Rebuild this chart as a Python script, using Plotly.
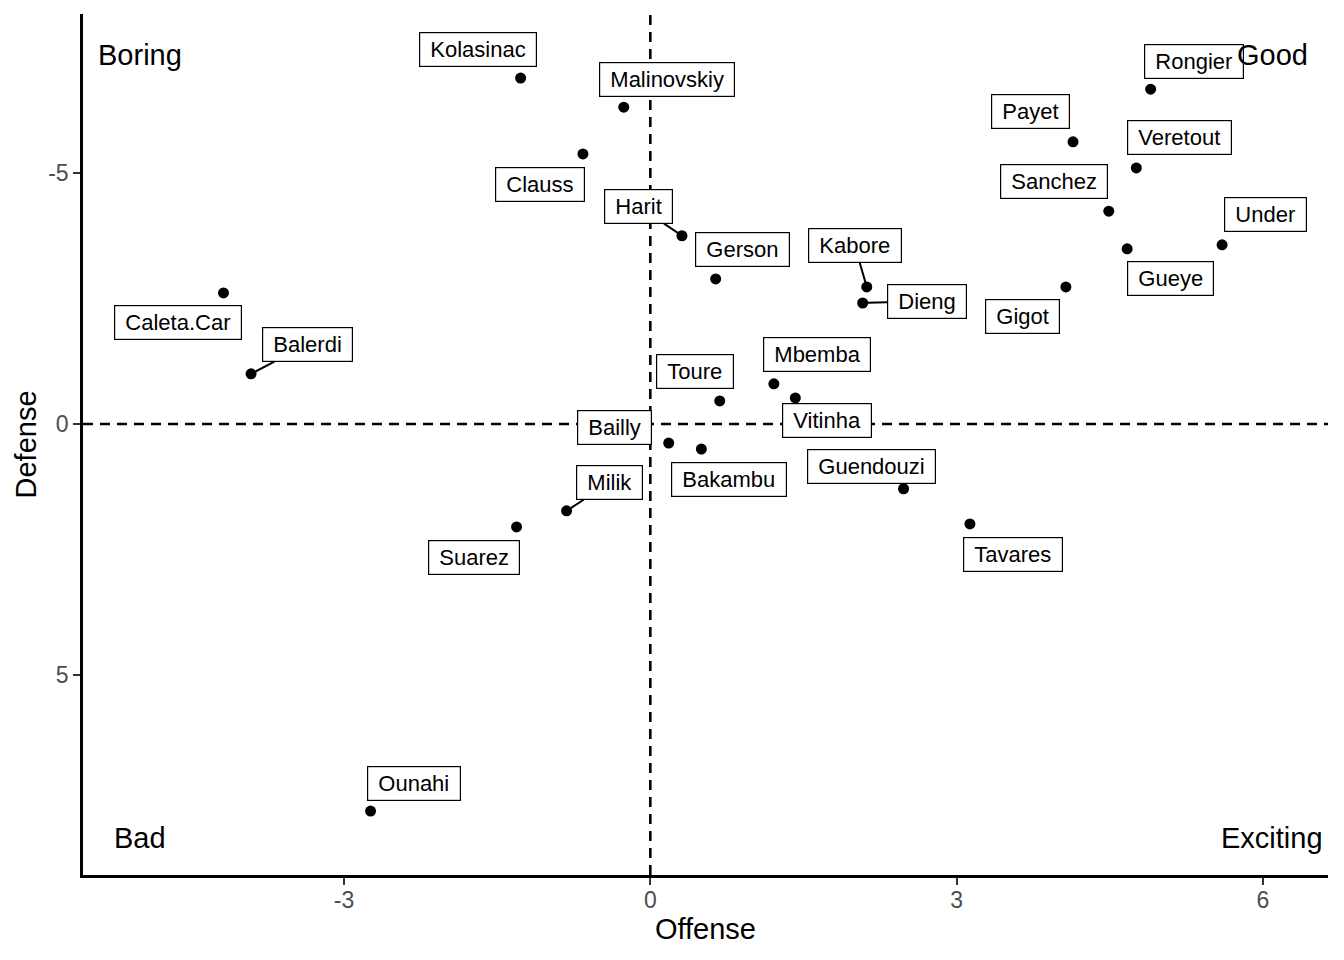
import plotly.graph_objects as go

# ---- data ----
players = ["Kolasinac", "Malinovskiy", "Clauss", "Harit", "Gerson", "Caleta.Car",
           "Balerdi", "Kabore", "Dieng", "Rongier", "Payet", "Veretout", "Sanchez",
           "Under", "Gueye", "Gigot", "Mbemba", "Vitinha", "Toure", "Bailly",
           "Bakambu", "Guendouzi", "Tavares", "Milik", "Suarez", "Ounahi"]
offense = [-1.27, -0.26, -0.66, 0.31, 0.64, -4.18,
           -3.91, 2.12, 2.08, 4.90, 4.14, 4.76, 4.49,
           5.60, 4.67, 4.07, 1.21, 1.42, 0.68, 0.18,
           0.50, 2.48, 3.13, -0.82, -1.31, -2.74]
defense = [-6.89, -6.31, -5.38, -3.75, -2.89, -2.61,
           -1.00, -2.73, -2.41, -6.67, -5.62, -5.10, -4.24,
           -3.57, -3.49, -2.73, -0.80, -0.52, -0.46, 0.38,
           0.50, 1.29, 1.99, 1.73, 2.05, 7.71]
x_ticks = [-3, 0, 3, 6]
y_ticks = [-5, 0, 5]
quadrant_text = ["Boring", "Good", "Bad", "Exciting"]
quadrant_x = [-5.0, 6.09, -5.0, 6.09]
quadrant_y = [-7.35, -7.35, 8.25, 8.25]

# ---- label layout (pixel offsets of label box from its point, repel-like) ----
label_dx = [-43, 43, -43, -43, 27, -46, 56, -12, 64, 43, -43, 43, -55,
            43, 43, -43, 43, 32, -25, -54, 28, -32, 43, 43, -43, 43]
label_dy = [-29, -28, 31, -29, -29, 30, -29, -41, -2, -28, -30, -30, -30,
            -30, 30, 30, -29, 23, -29, -16, 30, -22, 31, -28, 31, -28]
with_segment = {"Harit", "Balerdi", "Kabore", "Dieng", "Milik"}

FONT = "Liberation Sans, Arial, Helvetica, sans-serif"
NB = "\u00a0"

fig = go.Figure()
fig.add_trace(go.Scatter(
    x=offense, y=defense, mode="markers",
    marker=dict(color="black", size=11),
    hoverinfo="text", text=players, showlegend=False,
))

annotations = []
for name, xv, yv, dx, dy in zip(players, offense, defense, label_dx, label_dy):
    seg = name in with_segment
    annotations.append(dict(
        x=xv, y=yv, xref="x", yref="y",
        text=NB + name + NB,
        showarrow=True, arrowhead=0, arrowwidth=2, standoff=5,
        arrowcolor="black" if seg else "rgba(0,0,0,0)",
        ax=dx, ay=dy,
        font=dict(family=FONT, size=22, color="black"),
        bgcolor="white", bordercolor="black", borderwidth=1.2, borderpad=4,
    ))
for t, xv, yv in zip(quadrant_text, quadrant_x, quadrant_y):
    annotations.append(dict(
        x=xv, y=yv, xref="x", yref="y", text=t, showarrow=False,
        xanchor="center", yanchor="middle",
        font=dict(family=FONT, size=29, color="black"),
    ))

shapes = [
    dict(type="line", xref="x", yref="paper", x0=0, x1=0, y0=0, y1=1,
         line=dict(color="black", width=2.6, dash="10px,7px"), layer="below"),
    dict(type="line", xref="paper", yref="y", x0=0, x1=1, y0=0, y1=0,
         line=dict(color="black", width=2.6, dash="10px,7px"), layer="below"),
]

fig.update_layout(
    width=1328, height=944,
    margin=dict(l=75, r=8, t=6, b=77),
    paper_bgcolor="white", plot_bgcolor="white",
    font=dict(family=FONT),
    annotations=annotations, shapes=shapes,
    xaxis=dict(
        range=[-5.556, 6.637], tickvals=x_ticks, ticktext=[str(v) for v in x_ticks],
        showgrid=False, zeroline=False, showline=True, linecolor="black", linewidth=2.5,
        ticks="outside", ticklen=7, tickwidth=2, tickcolor="#333333",
        ticklabelstandoff=-4,
        tickfont=dict(family=FONT, size=23, color="#4D4D4D"),
        title=dict(text="Offense", font=dict(family=FONT, size=29, color="black"), standoff=6),
    ),
    yaxis=dict(
        range=[8.984, -8.167], tickvals=y_ticks, ticktext=[str(v) for v in y_ticks],
        showgrid=False, zeroline=False, showline=True, linecolor="black", linewidth=2.5,
        ticks="outside", ticklen=7, tickwidth=2, tickcolor="#333333",
        tickfont=dict(family=FONT, size=23, color="#4D4D4D"),
        title=dict(text="Defense", font=dict(family=FONT, size=29, color="black"), standoff=4),
    ),
)

fig.write_html("out.html")
